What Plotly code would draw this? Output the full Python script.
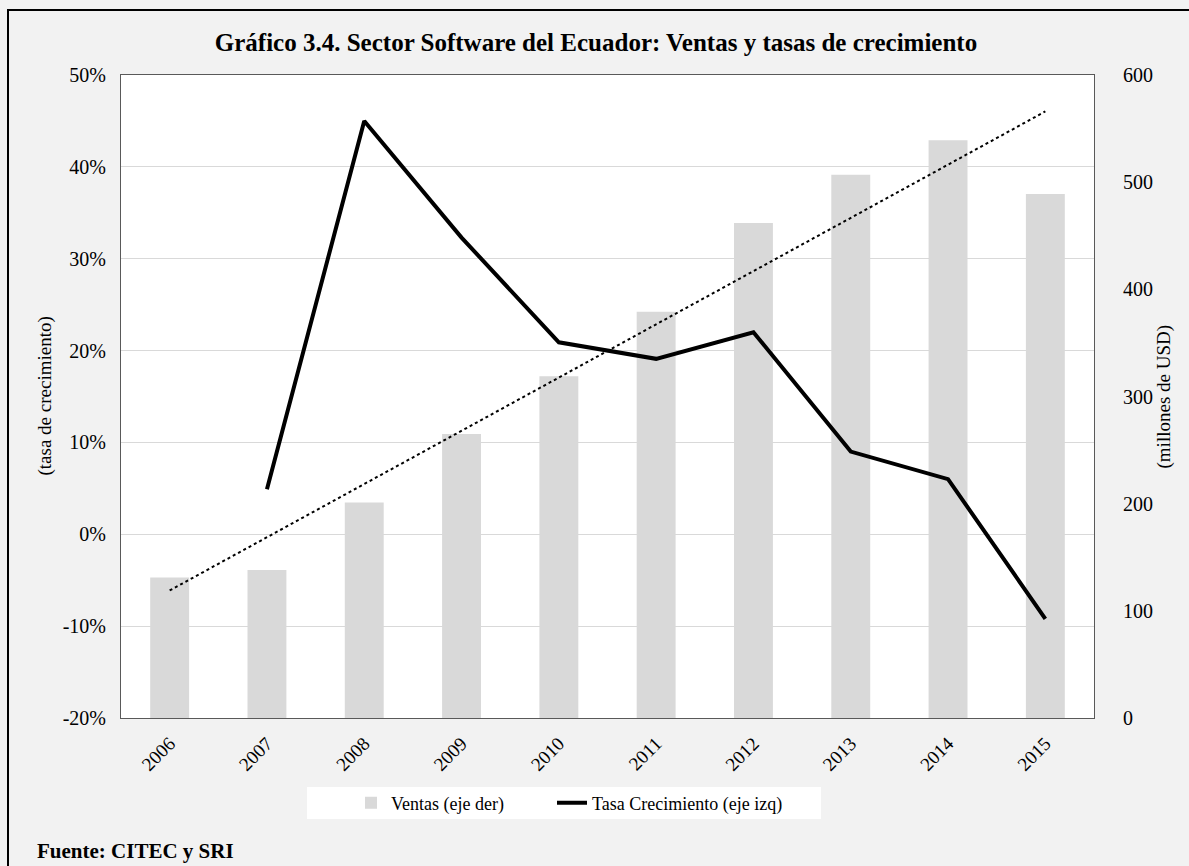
import plotly.graph_objects as go

# ---- data ----
anios = ["2006", "2007", "2008", "2009", "2010", "2011", "2012", "2013", "2014", "2015"]
ventas = [131, 138, 201, 265, 319, 379, 462, 507, 539, 489]          # millones de USD (eje der)
tasa_crecimiento = [None, 0.049, 0.450, 0.323, 0.209, 0.191, 0.220, 0.090, 0.060, -0.092]  # eje izq
tendencia_anios = ["2006", "2015"]
tendencia_ventas = [119, 566]                                        # línea de tendencia (eje der)

pct_ticks = [-0.2, -0.1, 0.0, 0.1, 0.2, 0.3, 0.4, 0.5]
pct_labels = ["-20%", "-10%", "0%", "10%", "20%", "30%", "40%", "50%"]
usd_ticks = [0, 100, 200, 300, 400, 500, 600]

FONT = "Liberation Serif, Times New Roman, serif"
AXIS_LINE = "#595959"

# plot-area geometry in pixels (used to convert to paper coordinates)
PL, PR, PT, PB = 121, 1094, 75, 718
PW, PH = PR - PL, PB - PT


def px_x(x):
    return (x - PL) / PW


def px_y(y):
    return (PB - y) / PH


fig = go.Figure()

fig.add_trace(go.Bar(
    x=anios, y=ventas, name="Ventas (eje der)", yaxis="y", legend="legend",
    marker=dict(color="#d9d9d9", line=dict(width=0)), width=0.4,
))
fig.add_trace(go.Scatter(
    x=tendencia_anios, y=tendencia_ventas, yaxis="y", mode="lines",
    line=dict(color="black", width=2, dash="dot"), showlegend=False, hoverinfo="skip",
))
fig.add_trace(go.Scatter(
    x=anios, y=tasa_crecimiento, name="Tasa Crecimiento (eje izq)", yaxis="y2",
    legend="legend2",
    mode="lines", line=dict(color="black", width=4), connectgaps=False,
))

legend_common = dict(
    orientation="h", xanchor="left", y=px_y(803), yanchor="middle",
    bgcolor="rgba(0,0,0,0)", font=dict(family=FONT, size=18),
)

fig.update_layout(
    width=1189, height=866,
    paper_bgcolor="#f2f2f2", plot_bgcolor="white",
    margin=dict(l=PL, r=1189 - PR, t=PT, b=866 - PB),
    font=dict(family=FONT, size=19, color="black"),
    title=dict(
        text="<b>Gráfico 3.4. Sector Software del Ecuador: Ventas y tasas de crecimiento</b>",
        x=(596) / 1189, xref="container", xanchor="center",
        y=1 - 42 / 866, yref="container", yanchor="middle",
        font=dict(family=FONT, size=25, color="black"),
    ),
    xaxis=dict(
        type="category", categoryorder="array", categoryarray=anios,
        showline=True, linecolor=AXIS_LINE, linewidth=1, mirror=True,
        showgrid=False, ticks="", tickangle=-45, ticklabelstandoff=6,
        tickfont=dict(family=FONT, size=19),
    ),
    yaxis=dict(
        side="right", range=[0, 600], tickvals=usd_ticks,
        showgrid=False, zeroline=False,
        showline=True, linecolor=AXIS_LINE, linewidth=1,
        ticks="outside", ticklen=24, tickcolor="rgba(0,0,0,0)",
        tickfont=dict(family=FONT, size=20),
    ),
    yaxis2=dict(
        overlaying="y", side="left", range=[-0.2, 0.5],
        tickvals=pct_ticks, ticktext=pct_labels,
        showgrid=True, gridcolor="#d9d9d9", gridwidth=1, zeroline=False,
        showline=True, linecolor=AXIS_LINE, linewidth=1,
        ticks="outside", ticklen=10, tickcolor="rgba(0,0,0,0)",
        tickfont=dict(family=FONT, size=20),
    ),
    legend=dict(x=px_x(351), **legend_common),
    legend2=dict(x=px_x(552), **legend_common),
    shapes=[
        dict(type="rect", xref="paper", yref="paper",
             x0=px_x(8), x1=1.2, y0=-0.5, y1=px_y(10),
             line=dict(color="black", width=2), fillcolor="rgba(0,0,0,0)", layer="below"),
        dict(type="rect", xref="paper", yref="paper",
             x0=px_x(307), x1=px_x(821), y0=px_y(819), y1=px_y(787),
             line=dict(width=0), fillcolor="white", layer="below"),
    ],
    annotations=[
        dict(text="(tasa de crecimiento)", textangle=-90, xref="paper", yref="paper",
             x=px_x(44), y=0.5, xanchor="center", yanchor="middle",
             showarrow=False, font=dict(family=FONT, size=19)),
        dict(text="(millones de USD)", textangle=-90, xref="paper", yref="paper",
             x=px_x(1163), y=0.5, xanchor="center", yanchor="middle",
             showarrow=False, font=dict(family=FONT, size=19)),
        dict(text="<b>Fuente: CITEC y SRI</b>", xref="paper", yref="paper",
             x=px_x(35), y=px_y(851), xanchor="left", yanchor="middle",
             showarrow=False, font=dict(family=FONT, size=21)),
    ],
)

fig.write_html(
    "out.html",
    config={"displayModeBar": False},
    post_script="document.body.style.margin='0';document.body.style.padding='0';"
                "document.body.style.overflow='hidden';",
)
